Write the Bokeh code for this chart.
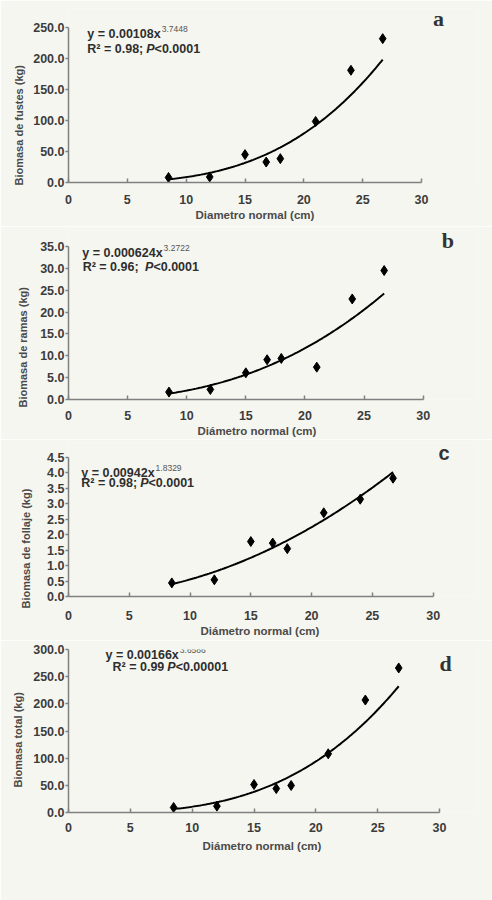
import numpy as np
from bokeh.plotting import figure
from bokeh.models import Label, Range1d, FixedTicker, NumeralTickFormatter, Title
from bokeh.layouts import column
from bokeh.embed import file_html
from bokeh.resources import INLINE

# data (same trees in each one)
diametro = [8.5, 12.0, 15.0, 16.8, 18.0, 21.0, 24.0, 26.7]
fustes = [8.0, 9.0, 45.0, 33.0, 38.5, 98.5, 181.0, 232.0]
ramas = [1.7, 2.3, 6.1, 9.1, 9.4, 7.4, 23.0, 29.5]
follaje = [0.44, 0.54, 1.78, 1.73, 1.55, 2.71, 3.15, 3.83]
total = [9.2, 11.7, 51.5, 44.0, 49.7, 108.0, 207.0, 266.0]

y_labels = ["Biomasa de fustes (kg)", "Biomasa de ramas (kg)",
            "Biomasa de follaje (kg)", "Biomasa total (kg)"]
x_labels = ["Diametro normal (cm)", "Diámetro normal (cm)",
            "Diámetro normal (cm)", "Diámetro normal (cm)"]
equations = ["y = 0.00108x", "y = 0.000624x", "y = 0.00942x", "y = 0.00166x"]
exponents = ["3.7448", "3.2722", "1.8329", "3.6586"]
r2_texts = ["R² = 0.98; ", " R² = 0.96; ", "R² = 0.98; ", "R² = 0.99 "]
p_texts = ["<0.0001", "<0.0001", "<0.0001", "<0.00001"]
letters = ["a", "b", "c", "d"]

BG = "#f6f6f0"
FONT = "Liberation Sans"

# layout of each panel; the visible axes stop at 30 / ymax, the frame runs a
# little further so the panel letter fits inside it
panels = [
    dict(y=fustes, ymax=250, step=50, yend=280.6, xend=34.84,
         h=226, l=68, t=8, b=44,
         eq=(1.6, 239), r2=(1.6, 216), let=(31.45, 264.5), serif=True,
         tso=12, xoff=127, xst=0, yoff=-3, yst=12),
    dict(y=ramas, ymax=35, step=5, yend=38.66, xend=34.68,
         h=213, l=63, t=4, b=40,
         eq=(1.17, 33.4), r2=(1.2, 30.4), let=(32.09, 36.37), serif=True,
         tso=11, xoff=129, xst=0, yoff=-8, yst=18),
    dict(y=follaje, ymax=4.5, step=0.5, yend=4.986, xend=33.73,
         h=201, l=62, t=3, b=44,
         eq=(1.05, 4.01), r2=(1.05, 3.66), let=(30.89, 4.66), serif=False,
         tso=14, xoff=132, xst=0, yoff=-12, yst=26),
    dict(y=total, ymax=300, step=50, yend=300, xend=33.15,
         h=260, l=68, t=9, b=88,
         eq=(2.99, 289), r2=(3.56, 267), let=(30.49, 274.2), serif=True,
         tso=10, xoff=134, xst=6, yoff=25, yst=14),
]

# Arial bold advance widths (1/1000 em) for the annotation strings
ADV = {" ": 278, "=": 584, "<": 584, ".": 278, ";": 333, "y": 556, "x": 556,
       "R": 722, "²": 333, "P": 667}


def text_width(s, size):
    return sum(ADV.get(ch, 556) for ch in s) * size / 1000.0


def make_panel(i, cfg):
    p = figure(width=492, height=cfg["h"], x_range=Range1d(0, cfg["xend"]),
               y_range=Range1d(0, cfg["yend"]), output_backend="svg",
               toolbar_location=None, min_border_left=cfg["l"],
               min_border_right=14, min_border_top=cfg["t"],
               min_border_bottom=cfg["b"])
    p.background_fill_color = BG
    p.border_fill_color = BG
    p.outline_line_color = None
    p.grid.visible = False

    p.xaxis.bounds = (0, 30)
    p.yaxis.bounds = (0, cfg["ymax"])
    p.xaxis.ticker = FixedTicker(ticks=list(range(0, 31, 5)))
    p.yaxis.ticker = FixedTicker(ticks=list(np.arange(0, cfg["ymax"] + 1e-9, cfg["step"])))
    p.yaxis.formatter = NumeralTickFormatter(format="0.0")
    p.axis.minor_tick_line_color = None
    p.axis.axis_line_color = "#808080"
    p.axis.axis_line_width = 1.5
    p.axis.major_tick_line_color = "#808080"
    p.axis.major_tick_line_width = 1.5
    p.xaxis.major_tick_in = 4
    p.xaxis.major_tick_out = 0
    p.yaxis.major_tick_in = 0
    p.yaxis.major_tick_out = 3
    p.axis.major_label_text_font = FONT
    p.axis.major_label_text_font_style = "bold"
    p.axis.major_label_text_font_size = "12.5px"
    p.axis.major_label_text_color = "#3c3c3c"
    p.xaxis.major_label_standoff = cfg["tso"]
    p.yaxis.major_label_standoff = 1

    # axis titles as plot titles, so they can sit off-centre like the original
    p.add_layout(Title(text=x_labels[i], align="left", offset=cfg["xoff"],
                       standoff=cfg["xst"], text_font=FONT, text_font_style="bold",
                       text_font_size="11.5px", text_color="#4a4a4a"), "below")
    p.add_layout(Title(text=y_labels[i], align="left", offset=cfg["yoff"],
                       standoff=cfg["yst"], text_font=FONT, text_font_style="bold",
                       text_font_size="11px", text_color="#4a4a4a"), "left")

    ys = cfg["y"]
    # power trend line, fitted in log-log space like the spreadsheet does
    b, lna = np.polyfit(np.log(diametro), np.log(ys), 1)
    xs = np.linspace(min(diametro), max(diametro), 120)
    p.line(xs, np.exp(lna) * xs ** b, line_color="black", line_width=2)
    p.scatter(diametro, ys, marker="diamond", size=10, color="black")

    size = 12.5
    common = dict(text_font=FONT, text_font_style="bold", text_color="#2e2e2e",
                  text_baseline="middle", text_font_size=f"{size}px")
    ex, ey = cfg["eq"]
    p.add_layout(Label(x=ex, y=ey, text=equations[i], **common))
    p.add_layout(Label(x=ex, y=ey, text=exponents[i], text_font=FONT,
                       text_color="#555555", text_font_size="8.5px",
                       text_baseline="middle",
                       x_offset=text_width(equations[i], size) + 1, y_offset=5))
    rx, ry = cfg["r2"]
    w1 = text_width(r2_texts[i].rstrip(), size) + 3
    p.add_layout(Label(x=rx, y=ry, text=r2_texts[i], **common))
    common_it = dict(common, text_font_style="bold italic")
    p.add_layout(Label(x=rx, y=ry, text="P", x_offset=w1, **common_it))
    p.add_layout(Label(x=rx, y=ry, text=p_texts[i],
                       x_offset=w1 + text_width("P", size), **common))

    lx, ly = cfg["let"]
    p.add_layout(Label(x=lx, y=ly, text=letters[i],
                       text_font="Liberation Serif" if cfg["serif"] else FONT,
                       text_font_style="bold",
                       text_font_size="22px" if cfg["serif"] else "20px",
                       text_color="#333333", text_align="center",
                       text_baseline="middle"))
    return p


figs = [make_panel(i, cfg) for i, cfg in enumerate(panels)]
layout = column(*figs, spacing=0)

open("out.html", "w").write(file_html(layout, INLINE))
